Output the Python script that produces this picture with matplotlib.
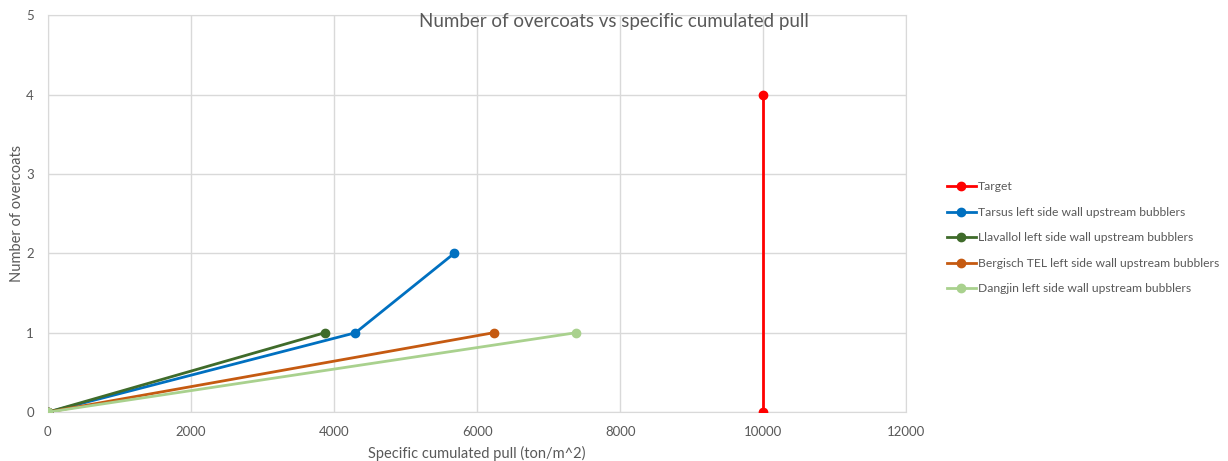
import matplotlib.pyplot as plt

plt.rcParams['font.family'] = ['Lato', 'DejaVu Sans']

# series data (specific cumulated pull, number of overcoats)
target_x = [10000, 10000]
target_y = [0, 4]
tarsus_x = [0, 4300, 5680]
tarsus_y = [0, 1, 2]
llavallol_x = [0, 3870]
llavallol_y = [0, 1]
bergisch_x = [0, 6230]
bergisch_y = [0, 1]
dangjin_x = [0, 7380]
dangjin_y = [0, 1]

labels = ['Target',
          'Tarsus left side wall upstream bubblers',
          'Llavallol left side wall upstream bubblers',
          'Bergisch TEL left side wall upstream bubblers',
          'Dangjin left side wall upstream bubblers']
colors = ['#ff0000', '#0070c0', '#3f6b2a', '#c55a11', '#a9d18e']

fig = plt.figure(figsize=(12.28, 4.61), dpi=100)
ax = fig.add_axes([0.039, 0.106, 0.699, 0.861])

series = [(target_x, target_y), (tarsus_x, tarsus_y), (llavallol_x, llavallol_y),
          (bergisch_x, bergisch_y), (dangjin_x, dangjin_y)]
for (xs, ys), lab, c in zip(series, labels, colors):
    ax.plot(xs, ys, color=c, lw=2, marker='o', ms=6, label=lab, zorder=3)

ax.set_xlim(0, 12000)
ax.set_ylim(0, 5)
ax.set_xticks(range(0, 12001, 2000))
ax.set_yticks(range(0, 6))
ax.grid(True, color='#d9d9d9', lw=1)
ax.set_axisbelow(True)
for s in ax.spines.values():
    s.set_color('#d9d9d9')
ax.tick_params(axis='x', length=0, colors='#595959', labelsize=9.5, pad=10)
ax.tick_params(axis='y', length=0, colors='#595959', labelsize=9.5, pad=10)
for lbl in ax.get_xticklabels() + ax.get_yticklabels():
    lbl.set_clip_on(False)

ax.set_xlabel('Specific cumulated pull (ton/m^2)', color='#595959', fontsize=10.5, labelpad=6)
ax.set_ylabel('Number of overcoats', color='#595959', fontsize=10.5, labelpad=1.5)

fig.text(0.5, 1 - 22 / 461, 'Number of overcoats vs specific cumulated pull',
         ha='center', va='center', fontsize=13.5, color='#595959')

fig.legend(loc='center left', bbox_to_anchor=(0.762, 0.484), frameon=False,
           fontsize=8.7, labelcolor='#595959', handlelength=2.4, handletextpad=0.2,
           labelspacing=1.2)

fig.savefig('out.png', dpi=100)
